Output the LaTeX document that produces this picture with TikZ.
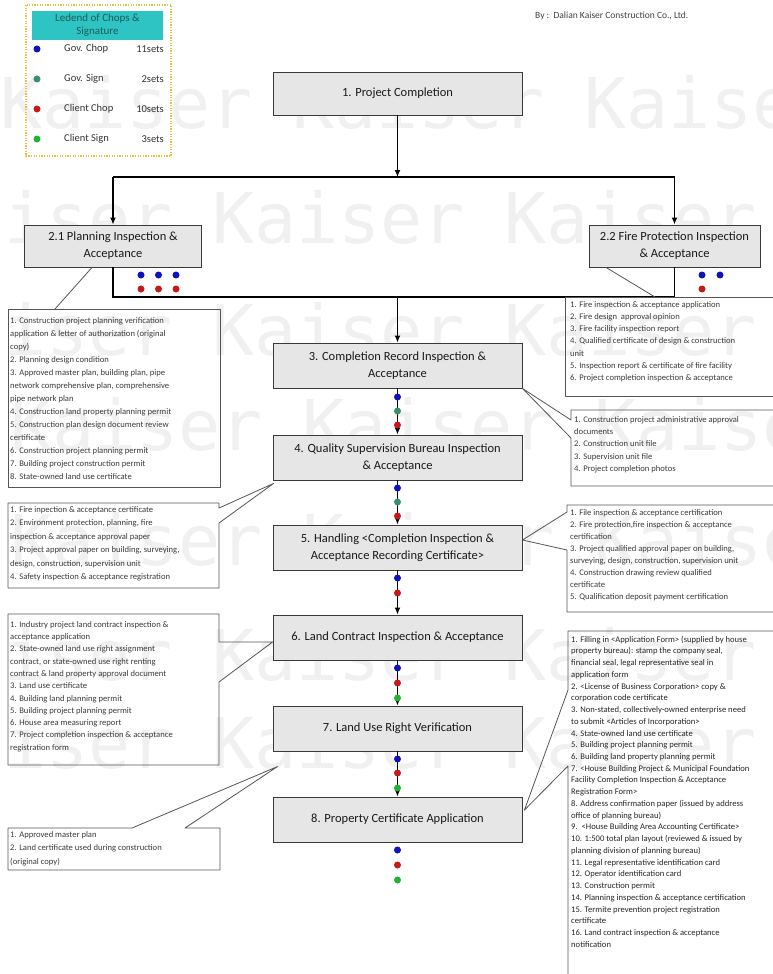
\documentclass[tikz,border=0pt]{standalone}
\usepackage{fontspec}
\setmainfont{Carlito}
\newfontfamily\markfont{DejaVu Sans Mono}
\usetikzlibrary{arrows.meta,calc}
\definecolor{boxfill}{HTML}{E6E6E6}
\definecolor{boxline}{HTML}{3A3A3A}
\definecolor{noteline}{HTML}{555555}
\definecolor{notecol}{HTML}{3A3A3A}
\definecolor{chopblue}{HTML}{1212B8}
\definecolor{signteal}{HTML}{3C8F6E}
\definecolor{chopred}{HTML}{C41A1A}
\definecolor{signgreen}{HTML}{22B332}
\definecolor{legendedge}{HTML}{E3C23C}
\definecolor{legendhead}{HTML}{2FC4C4}
\definecolor{legendheadtext}{HTML}{1E5C5C}
\definecolor{markgray}{HTML}{F0F0F0}

\begin{document}
\begin{tikzpicture}[x=1pt,y=-1pt,
  stepbox/.style={draw=boxline, fill=boxfill, line width=0.9pt, minimum width=249pt,
    minimum height=45pt, align=center, inner sep=2pt,
    font=\fontsize{12.5}{17}\selectfont, text=black!90},
  sidebox/.style={stepbox, minimum width=177pt, minimum height=42pt},
  flow/.style={line width=1.3pt, -{Latex[length=7pt,width=6pt]}},
  link/.style={line width=1.3pt},
  chip/.style={circle, inner sep=0pt, minimum size=7pt},
  balloon/.style={draw=noteline, line width=0.8pt, line join=round},
  leader/.style={draw=noteline, line width=0.8pt},
  notetext/.style={anchor=north west, inner sep=0pt, align=left, text=notecol},
  wmark/.style={anchor=base west, inner sep=0pt,
    font=\markfont\fontsize{70}{70}\selectfont, text=markgray},
  legendtext/.style={inner sep=0pt, font=\fontsize{10.5}{12}\selectfont, text=black!80},
]
\useasboundingbox (0,0) rectangle (773,974);
\clip (0,0) rectangle (773,974);

% background watermark
\foreach \yy/\xx in {128/0, 243/-80, 355/-80, 450/10, 565/10, 680/-80, 768/-80} {
  \foreach \k in {0,1,2}
    \node[wmark] (wm-\yy-\k) at (\xx+\k*292, \yy) {Kaiser};
}

% legend
\draw[legendedge, line width=1.3pt, dash pattern=on 1.3pt off 1.3pt] (26,5) rectangle (171,156);
\node[fill=legendhead, minimum width=131pt, minimum height=29pt, inner sep=0pt, align=center,
  font=\fontsize{11}{13}\selectfont, text=legendheadtext] (legendhead) at (97.5,25.5)
  {Ledend of Chops \&\\Signature};
\node[chip, fill=chopblue]  (lg1) at (37,49)  {};
\node[chip, fill=signteal]  (lg2) at (37,79)  {};
\node[chip, fill=chopred]   (lg3) at (37,109) {};
\node[chip, fill=signgreen] (lg4) at (37,139) {};
\node[legendtext, anchor=west] (lgt1) at (64,49)  {Gov. Chop};
\node[legendtext, anchor=west] (lgt2) at (64,79)  {Gov. Sign};
\node[legendtext, anchor=west] (lgt3) at (64,109) {Client Chop};
\node[legendtext, anchor=west] (lgt4) at (64,139) {Client Sign};
\node[legendtext, anchor=east] (lgn1) at (164,49)  {11sets};
\node[legendtext, anchor=east] (lgn2) at (164,79)  {2sets};
\node[legendtext, anchor=east] (lgn3) at (164,109) {10sets};
\node[legendtext, anchor=east] (lgn4) at (164,139) {3sets};

\node[anchor=west, inner sep=0pt, font=\fontsize{9.5}{11}\selectfont, text=black!75] (maker)
  at (535,16) {By :\ \ Dalian Kaiser Construction Co., Ltd.};

% process steps
\node[stepbox, minimum height=43pt] (s1) at (397.5,93.5) {1. Project Completion};
\node[sidebox] (s21) at (113,246) {2.1 Planning Inspection \&\\Acceptance};
\node[sidebox, minimum width=171pt] (s22) at (674.5,246) {2.2 Fire Protection Inspection\\\& Acceptance};
\node[stepbox] (s3) at (397.5,365.5) {3. Completion Record Inspection \&\\Acceptance};
\node[stepbox] (s4) at (397.5,457.5) {4. Quality Supervision Bureau Inspection\\\& Acceptance};
\node[stepbox] (s5) at (397.5,547.5) {5. Handling <Completion Inspection \&\\Acceptance Recording Certificate>};
\node[stepbox] (s6) at (397.5,637.5) {6. Land Contract Inspection \& Acceptance};
\node[stepbox] (s7) at (397.5,728.5) {7. Land Use Right Verification};
\node[stepbox] (s8) at (397.5,819.5) {8. Property Certificate Application};

% branching and joining
\coordinate (split)  at (397.5,177);
\coordinate (splitL) at (113,177);
\coordinate (splitR) at (674.5,177);
\coordinate (merge)  at (397.5,297);
\coordinate (mergeL) at (113,297);
\coordinate (mergeR) at (674.5,297);

\draw[flow] (s1.south) -- (split);
\draw[link] (splitL) -- (splitR);
\draw[flow] (splitL) -- (s21.north);
\draw[flow] (splitR) -- (s22.north);
\draw[link] (s21.south) -- (mergeL) -- (mergeR) -- (s22.south);
\draw[flow] (merge) -- (s3.north);
\draw[flow] (s3.south) -- (s4.north);
\draw[flow] (s4.south) -- (s5.north);
\draw[flow] (s5.south) -- (s6.north);
\draw[flow] (s6.south) -- (s7.north);
\draw[flow] (s7.south) -- (s8.north);

% chops and signatures per step
\node[chip, fill=chopblue] (d21a) at (141,275) {};
\node[chip, fill=chopblue] (d21b) at (158.5,275) {};
\node[chip, fill=chopblue] (d21c) at (176,275) {};
\node[chip, fill=chopred]  (d21d) at (141,289) {};
\node[chip, fill=chopred]  (d21e) at (158.5,289) {};
\node[chip, fill=chopred]  (d21f) at (176,289) {};
\node[chip, fill=chopblue] (d22a) at (702,275) {};
\node[chip, fill=chopblue] (d22b) at (720,275) {};
\node[chip, fill=chopred]  (d22c) at (702,289) {};

\node[chip, fill=chopblue] (d3a) at (397.5,397) {};
\node[chip, fill=signteal] (d3b) at (397.5,411) {};
\node[chip, fill=chopred]  (d3c) at (397.5,425) {};
\node[chip, fill=chopblue] (d4a) at (397.5,488) {};
\node[chip, fill=signteal] (d4b) at (397.5,502) {};
\node[chip, fill=chopred]  (d4c) at (397.5,516) {};
\node[chip, fill=chopblue] (d5a) at (397.5,578) {};
\node[chip, fill=chopred]  (d5b) at (397.5,593) {};
\node[chip, fill=chopblue] (d6a) at (397.5,668) {};
\node[chip, fill=chopred]  (d6b) at (397.5,683) {};
\node[chip, fill=signgreen](d6c) at (397.5,698) {};
\node[chip, fill=chopblue] (d7a) at (397.5,759) {};
\node[chip, fill=chopred]  (d7b) at (397.5,773) {};
\node[chip, fill=signgreen](d7c) at (397.5,788) {};
\node[chip, fill=chopblue] (d8a) at (397.5,850) {};
\node[chip, fill=chopred]  (d8b) at (397.5,865) {};
\node[chip, fill=signgreen](d8c) at (397.5,880) {};

% document lists
\draw[balloon] (8,309) rectangle (220,487);
\draw[leader] (55,309) -- ([xshift=-21pt]s21.south);
\node[notetext, font=\fontsize{8.6}{13}\selectfont] (t1) at (10,316) {\rule{0pt}{7pt}%
1. Construction project planning verification\\
application \& letter of authorization (original\\
copy)\\
2. Planning design condition\\
3. Approved master plan, building plan, pipe\\
network comprehensive plan, comprehensive\\
pipe network plan\\
4. Construction land property planning permit\\
5. Construction plan design document review\\
certificate\\
6. Construction project planning permit\\
7. Building project construction permit\\
8. State-owned land use certificate};

\draw[balloon] (565,297) rectangle (790,396);
\draw[leader] (655,297) -- ([xshift=-68.5pt]s22.south);
\node[notetext, font=\fontsize{8.6}{12.2}\selectfont] (t2) at (570,300) {\rule{0pt}{7pt}%
1. Fire inspection \& acceptance application\\
2. Fire design\ \ approval opinion\\
3. Fire facility inspection report\\
4. Qualified certificate of design \& construction\\
unit\\
5. Inspection report \& certificate of fire facility\\
6. Project completion inspection \& acceptance};

\draw[balloon] (571,420) -- (s3.south east) -- (571,438) -- (571,486) -- (790,486)
  -- (790,410) -- (571,410) -- cycle;
\node[notetext, font=\fontsize{8.6}{12.3}\selectfont] (t3) at (574,415) {\rule{0pt}{7pt}%
1. Construction project administrative approval\\
documents\\
2. Construction unit file\\
3. Supervision unit file\\
4. Project completion photos};

\draw[balloon] (567,505) -- (790,505) -- (790,612) -- (567,612) -- (567,550)
  -- ([yshift=7.5pt]s5.east) -- (567,512) -- cycle;
\node[notetext, font=\fontsize{8.6}{12}\selectfont] (t4) at (570,508) {\rule{0pt}{7pt}%
1. File inspection \& acceptance certification\\
2. Fire protection,fire inspection \& acceptance\\
certification\\
3. Project qualified approval paper on building,\\
surveying, design, construction, supervision unit\\
4. Construction drawing review qualified\\
certificate\\
5. Qualification deposit payment certification};

\draw[balloon] (8,503) -- (219,503) -- (219,508) -- ([xshift=1pt,yshift=-3pt]s4.south west)
  -- (219,523) -- (219,588) -- (8,588) -- cycle;
\node[notetext, font=\fontsize{8.6}{13.5}\selectfont] (t5) at (10,505) {\rule{0pt}{7pt}%
1. Fire inpection \& acceptance certificate\\
2. Environment protection, planning, fire\\
inspection \& acceptance approval paper\\
3. Project approval paper on building, surveying,\\
design, construction, supervision unit\\
4. Safety inspection \& acceptance registration};

\draw[balloon] (8,614) -- (219,614) -- (219,642) -- ([yshift=-4.5pt]s6.west)
  -- (219,682) -- (219,765) -- (8,765) -- cycle;
\node[notetext, font=\fontsize{8.6}{12.3}\selectfont] (t6) at (10,620) {\rule{0pt}{7pt}%
1. Industry project land contract inspection \&\\
acceptance application\\
2. State-owned land use right assignment\\
contract, or state-owned use right renting\\
contract \& land property approval document\\
3. Land use certificate\\
4. Building land planning permit\\
5. Building project planning permit\\
6. House area measuring report\\
7. Project completion inspection \& acceptance\\
registration form};

\draw[balloon] (568,631) -- (790,631) -- (790,1000) -- (568,1000) -- (568,766)
  -- ([xshift=2pt,yshift=9.5pt]s8.east) -- (568,690) -- cycle;
\node[notetext, font=\fontsize{8.6}{11.73}\selectfont, text=black!85] (t7) at (571,635) {\rule{0pt}{7pt}%
1. Filling in <Application Form> (supplied by house\\
property bureau): stamp the company seal,\\
financial seal, legal representative seal in\\
application form\\
2. <License of Business Corporation> copy \&\\
corporation code certificate\\
3. Non-stated, collectively-owned enterprise need\\
to submit <Articles of Incorporation>\\
4. State-owned land use certificate\\
5. Building project planning permit\\
6. Building land property planning permit\\
7. <House Building Project \& Municipal Foundation\\
Facility Completion Inspection \& Acceptance\\
Registration Form>\\
8. Address confirmation paper (issued by address\\
office of planning bureau)\\
9.\ \ <House Building Area Accounting Certificate>\\
10. 1:500 total plan layout (reviewed \& issued by\\
planning division of planning bureau)\\
11. Legal representative identification card\\
12. Operator identification card\\
13. Construction permit\\
14. Planning inspection \& acceptance certification\\
15. Termite prevention project registration\\
certificate\\
16. Land contract inspection \& acceptance\\
notification};

\draw[balloon] (8,828) -- (132,828) -- ([xshift=5pt,yshift=30pt]s8.north west)
  -- (185,828) -- (220,828) -- (220,870) -- (8,870) -- cycle;
\node[notetext, font=\fontsize{8.6}{13.5}\selectfont] (t8) at (10,830) {\rule{0pt}{7pt}%
1. Approved master plan\\
2. Land certificate used during construction\\
(original copy)};

\end{tikzpicture}
\end{document}
